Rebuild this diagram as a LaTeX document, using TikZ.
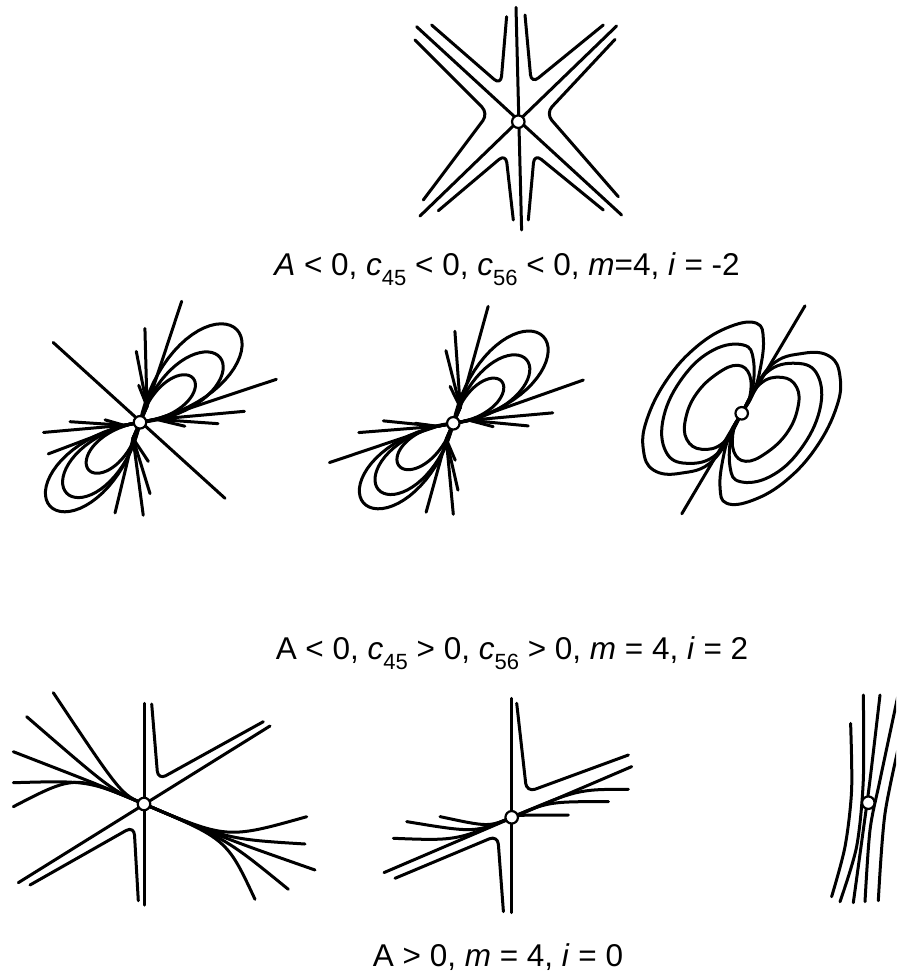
\documentclass[tikz,border=0pt]{standalone}
\usepackage{fontspec}
\setmainfont{Liberation Sans}
\usetikzlibrary{calc}
\usepackage{xcolor}
\definecolor{cInk}{HTML}{000000}
\newcommand{\capsize}{\fontsize{31.5}{38}\selectfont}
\newcommand{\csub}[1]{\raisebox{-0.33em}{\fontsize{22}{26}\selectfont #1}}
\tikzset{
  trace/.style={draw=cInk, line width=3pt, line cap=round, line join=round},
  sep/.style={trace, rounded corners=9pt},
  spot/.style={
    circle, draw=cInk, fill=white, line width=2.2pt,
    inner sep=0pt, minimum size=12.5pt,
  },
  caption/.style={font=\capsize, anchor=base, text=cInk},
}

\begin{document}
\begin{tikzpicture}[x=1pt, y=1pt]
  \useasboundingbox (0,0) rectangle (896,-976);

  % Top: three lines and six separatrices
  \begin{scope}[shift={(518.3,-121.7)}]
    \draw[trace] (-2.3,114.3) -- (3.3,-108.3);
    \draw[trace] (-101.7,95) -- (103.3,-93.3);
    \draw[trace] (98.3,95.7) -- (-98.3,-94.3);
    \draw[sep] (-86.7,96.7) -- (-17.5,36.5) -- (-11.7,105);
    \draw[sep] (6.7,106.7) -- (13,38) -- (85,96.7);
    \draw[sep] (-103.3,81.7) -- (-30,8.3) -- (-95,-78.3);
    \draw[sep] (96.7,82.3) -- (27.5,8.3) -- (100,-75);
    \draw[sep] (-80,-89) -- (-12.5,-32) -- (-5,-98.3);
    \draw[sep] (10,-98.3) -- (16,-32) -- (85,-88.3);
    \node[spot] (p1) at (0,0) {};
  \end{scope}
  \node[caption] (cap1) at (507,-275)
    {\textit{A} < 0, \textit{c}\csub{45} < 0, \textit{c}\csub{56} < 0, \textit{m}=4, \textit{i} = -2};

  % Middle row, left: lobes, fans and one line
  \begin{scope}[shift={(140,-422.3)}]
    \draw[trace] (137.4:118) -- (-41.8:114);
    \foreach \ax/\len in {43.7/134, 39/103, 39.5/69, 223/123, 224/102, 223/70}
      \draw[trace] plot[domain=-34.6:34.6, samples=41, variable=\t]
        ({\ax+\t}:{\len*cos(2.6*\t)});
    \foreach \ang/\len in {71/128, 87/94, 93/71, 92/37}
      \draw[trace] (0,0) -- (7,16) -- (\ang:\len);
    \foreach \ang/\len in {17.5/143, 6/105, -1/78, -5/45}
      \draw[trace] (0,0) -- (16,3) -- (\ang:\len);
    \foreach \ang/\len in {199/97, 186/97, 179.5/70, 176/35}
      \draw[trace] (0,0) -- (-16,-3) -- (\ang:\len);
    \foreach \ang/\len in {254.6/94, 272/93, 278/72, 282/40}
      \draw[trace] (0,0) -- (-7,-16) -- (\ang:\len);
    \node[spot] (p2) at (0,0) {};
  \end{scope}

  % Middle row, centre
  \begin{scope}[shift={(453.3,-423.3)}]
    \foreach \ax/\len in {44/125, 41/97, 41/64, 221.6/120, 221.6/100, 218/69}
      \draw[trace] plot[domain=-34.6:34.6, samples=41, variable=\t]
        ({\ax+\t}:{\len*cos(2.6*\t)});
    \foreach \ang/\len in {73.4/122, 89/92, 95.8/73, 95/37}
      \draw[trace] (0,0) -- (7,16) -- (\ang:\len);
    \foreach \ang/\len in {18.4/137, 6/100, -2/75, -4.8/40}
      \draw[trace] (0,0) -- (16,3) -- (\ang:\len);
    \foreach \ang/\len in {197.6/130, 185.6/95, 178/70, 180/38}
      \draw[trace] (0,0) -- (-16,-3) -- (\ang:\len);
    \foreach \ang/\len in {253/93, 270/91, 274/67, 273/37}
      \draw[trace] (0,0) -- (-7,-16) -- (\ang:\len);
    \node[spot] (p3) at (0,0) {};
  \end{scope}

  % Middle row, right: closed loops
  \begin{scope}[shift={(741.7,-413.3)}]
    \draw[trace] (59.5:124.7) -- (239.2:117);
    \foreach \r in {0,180}{
      \begin{scope}[rotate=\r]
        \draw[trace] plot[smooth cycle, tension=0.7] coordinates {(0,0) (28.3,46.7)
          (61.7,60) (88.3,56.7) (98.3,36.7) (95,6.7) (75,-33.3) (45,-66.7)
          (11.7,-86.7) (-15,-90) (-21.7,-73.3) (-18.3,-43.3) (-11,-19)};
        \draw[trace] plot[smooth cycle, tension=0.7] coordinates {(0,0) (24,40)
          (55,50) (76,38) (78,3.3) (58.3,-36.7) (28.3,-63.3) (-1.7,-68.3)
          (-11.7,-53.3) (-10,-20)};
        \draw[trace] plot[smooth cycle, tension=0.7] coordinates {(0,0) (18,29)
          (40,36) (55,26) (56,5) (45,-20) (24,-40) (4,-48) (-8,-38) (-8,-16)};
      \end{scope}
    }
    \node[spot] (p4) at (0,0) {};
  \end{scope}
  \node[caption] (cap2) at (512,-659)
    {A < 0, \textit{c}\csub{45} > 0, \textit{c}\csub{56} > 0, \textit{m} = 4, \textit{i} = 2};

  % Bottom row, left
  \begin{scope}[shift={(144,-804)}]
    \draw[trace] (0,100.7) -- (0,-101);
    \draw[trace] (126,78) -- (-125.7,-78.7);
    \draw[sep] (7.7,100) -- (14,24) -- (119.3,82.3);
    \draw[sep] (-5.7,-96.7) -- (-10,-22) -- (-114,-81);
    \foreach \ex/\ey/\d in {-90.7/111.3/25, -117.3/87.3/35, -130.7/52.3/50,
                           -130.7/21.3/60, -130.7/-2.7/75}
      \draw[trace] (0,0) .. controls (157:\d) .. (\ex,\ey);
    \foreach \ex/\ey in {162.7/-12.7, 161/-40, 171/-66, 144.3/-85.3, 111/-95.3}
      \draw[trace] (0,0) .. controls (-23:90) .. (\ex,\ey);
    \node[spot] (p5) at (0,0) {};
  \end{scope}

  % Bottom row, centre
  \begin{scope}[shift={(511.7,-817.3)}]
    \draw[trace] (0,119) -- (0,-95.3);
    \draw[trace] (120,50.7) -- (-127.7,-55.3);
    \draw[sep] (5,114) -- (15,25) -- (116.7,62.3);
    \draw[sep] (-8.3,-94.3) -- (-14,-18) -- (-116.7,-61);
    \foreach \ex/\ey/\cx/\cy in {56.7/2.3/5.4/2.3, 96.7/15.7/37/15.7, 116.7/28/66/28}
      \draw[trace] (0,0) .. controls (\cx,\cy) .. (\ex,\ey);
    \foreach \ex/\ey/\d in {-71.7/0.7/25, -105/-4.3/40, -118.3/-21/60}
      \draw[trace] (0,0) .. controls (203:\d) .. (\ex,\ey);
    \node[spot] (p6) at (0,0) {};
  \end{scope}

  % Bottom row, right (cut by the edge)
  \begin{scope}[shift={(868.3,-802.7)}]
    \clip (-60,-120) rectangle (27.7,130);
    \draw[trace] plot[smooth] coordinates {(-17.7,79.3) (-16.7,12.7) (-23.3,-44) (-36.7,-94)};
    \draw[trace] plot[smooth] coordinates {(-5,107.7) (-5,22.7) (-11.7,-44) (-28.3,-99)};
    \draw[trace] plot[smooth] coordinates {(11.7,107.7) (1.7,22.7) (-5,-27.3) (-15,-100)};
    \draw[trace] plot[smooth] coordinates {(32,118) (11.7,22.7) (1.7,-27.3) (-3.3,-99)};
    \draw[trace] plot[smooth] coordinates {(34,72) (16.7,-10.7) (10,-98)};
    \node[spot] (p7) at (0,0) {};
  \end{scope}
  \node[caption] (cap3) at (498,-966.7)
    {A > 0, \textit{m} = 4, \textit{i} = 0};
\end{tikzpicture}
\end{document}
